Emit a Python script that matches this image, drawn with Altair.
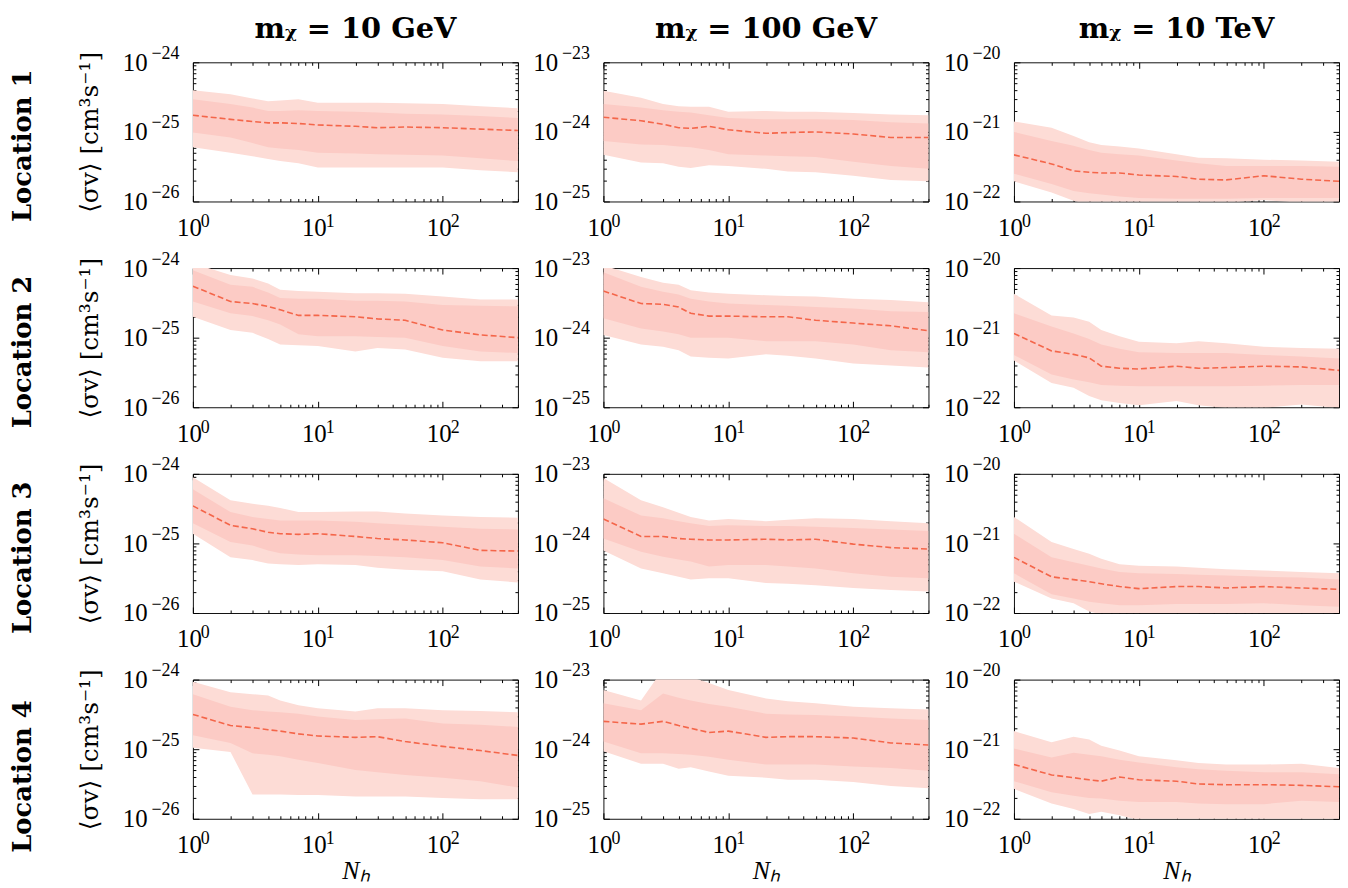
import altair as alt
import pandas as pd

# Number of halos (x axis)
NH = [1, 2, 3, 4, 5, 7, 10, 20, 30, 50, 100, 200, 400]

# log10 of <sigma v>: median, 68% band (ilo/ihi), 95% band (olo/ohi)
# Location 1
L1_10GeV_med = [-24.76, -24.82, -24.85, -24.87, -24.87, -24.88, -24.90, -24.92, -24.94, -24.93, -24.94, -24.96, -24.98]
L1_10GeV_ohi = [-24.40, -24.46, -24.52, -24.56, -24.55, -24.53, -24.58, -24.58, -24.58, -24.59, -24.60, -24.63, -24.66]
L1_10GeV_ihi = [-24.53, -24.60, -24.65, -24.70, -24.70, -24.69, -24.70, -24.71, -24.72, -24.74, -24.75, -24.77, -24.80]
L1_10GeV_ilo = [-25.01, -25.08, -25.16, -25.22, -25.24, -25.26, -25.30, -25.31, -25.32, -25.33, -25.34, -25.38, -25.42]
L1_10GeV_olo = [-25.22, -25.30, -25.35, -25.39, -25.42, -25.45, -25.51, -25.51, -25.51, -25.51, -25.51, -25.55, -25.58]

L1_100GeV_med = [-23.79, -23.84, -23.89, -23.94, -23.95, -23.92, -23.97, -24.02, -24.01, -24.00, -24.03, -24.08, -24.08]
L1_100GeV_ohi = [-23.41, -23.51, -23.60, -23.63, -23.64, -23.64, -23.71, -23.70, -23.71, -23.71, -23.73, -23.75, -23.76]
L1_100GeV_ihi = [-23.60, -23.65, -23.69, -23.71, -23.72, -23.76, -23.80, -23.82, -23.82, -23.82, -23.83, -23.86, -23.88]
L1_100GeV_ilo = [-24.13, -24.18, -24.19, -24.21, -24.22, -24.26, -24.32, -24.34, -24.35, -24.36, -24.43, -24.49, -24.53]
L1_100GeV_olo = [-24.33, -24.44, -24.45, -24.50, -24.52, -24.48, -24.49, -24.53, -24.57, -24.58, -24.63, -24.69, -24.71]

L1_10TeV_med = [-21.33, -21.46, -21.56, -21.58, -21.59, -21.59, -21.62, -21.64, -21.68, -21.69, -21.63, -21.68, -21.71]
L1_10TeV_ohi = [-20.85, -20.94, -21.06, -21.15, -21.19, -21.21, -21.24, -21.32, -21.37, -21.38, -21.40, -21.41, -21.43]
L1_10TeV_ihi = [-21.00, -21.13, -21.20, -21.26, -21.30, -21.32, -21.34, -21.41, -21.45, -21.49, -21.49, -21.49, -21.50]
L1_10TeV_ilo = [-21.60, -21.75, -21.85, -21.88, -21.90, -21.93, -21.95, -21.96, -21.96, -21.96, -21.95, -21.95, -21.95]
L1_10TeV_olo = [-21.71, -21.87, -21.99, -22.05, -22.08, -22.08, -22.08, -22.06, -22.05, -22.02, -21.98, -22.02, -22.05]

# Location 2
L2_10GeV_med = [-24.26, -24.48, -24.51, -24.55, -24.60, -24.68, -24.68, -24.70, -24.73, -24.75, -24.89, -24.96, -25.00]
L2_10GeV_ohi = [-23.93, -24.10, -24.15, -24.22, -24.31, -24.33, -24.34, -24.36, -24.36, -24.37, -24.41, -24.45, -24.45]
L2_10GeV_ihi = [-24.03, -24.24, -24.27, -24.35, -24.43, -24.44, -24.44, -24.47, -24.47, -24.48, -24.53, -24.54, -24.55]
L2_10GeV_ilo = [-24.48, -24.65, -24.69, -24.75, -24.81, -24.95, -24.98, -24.98, -24.99, -25.00, -25.12, -25.20, -25.22]
L2_10GeV_olo = [-24.70, -24.89, -24.93, -25.02, -25.10, -25.11, -25.12, -25.20, -25.15, -25.17, -25.29, -25.34, -25.34]

L2_100GeV_med = [-23.33, -23.51, -23.52, -23.56, -23.65, -23.69, -23.69, -23.70, -23.70, -23.75, -23.79, -23.83, -23.90]
L2_100GeV_ohi = [-22.96, -23.13, -23.21, -23.24, -23.32, -23.35, -23.37, -23.39, -23.40, -23.41, -23.44, -23.46, -23.49]
L2_100GeV_ihi = [-23.06, -23.27, -23.34, -23.38, -23.44, -23.48, -23.51, -23.53, -23.54, -23.56, -23.58, -23.62, -23.63]
L2_100GeV_ilo = [-23.72, -23.87, -23.91, -23.95, -24.00, -24.00, -24.00, -24.05, -24.05, -24.05, -24.10, -24.18, -24.21]
L2_100GeV_olo = [-23.96, -24.10, -24.13, -24.18, -24.27, -24.29, -24.30, -24.24, -24.26, -24.30, -24.37, -24.40, -24.43]

L2_10TeV_med = [-20.94, -21.19, -21.24, -21.29, -21.41, -21.44, -21.45, -21.41, -21.44, -21.43, -21.41, -21.42, -21.47]
L2_10TeV_ohi = [-20.37, -20.68, -20.71, -20.77, -20.89, -20.98, -21.06, -21.08, -21.05, -21.08, -21.13, -21.15, -21.16]
L2_10TeV_ihi = [-20.65, -20.84, -20.94, -21.02, -21.10, -21.16, -21.21, -21.22, -21.22, -21.22, -21.25, -21.27, -21.30]
L2_10TeV_ilo = [-21.25, -21.53, -21.60, -21.64, -21.68, -21.69, -21.70, -21.70, -21.70, -21.70, -21.69, -21.68, -21.68]
L2_10TeV_olo = [-21.33, -21.65, -21.72, -21.84, -21.90, -21.94, -21.97, -21.91, -21.97, -22.01, -22.01, -21.96, -22.01]

# Location 3
L3_10GeV_med = [-24.46, -24.74, -24.79, -24.84, -24.86, -24.87, -24.86, -24.90, -24.93, -24.95, -24.99, -25.10, -25.11]
L3_10GeV_ohi = [-24.05, -24.38, -24.43, -24.46, -24.49, -24.55, -24.55, -24.54, -24.54, -24.57, -24.60, -24.62, -24.63]
L3_10GeV_ihi = [-24.22, -24.55, -24.62, -24.65, -24.67, -24.67, -24.67, -24.69, -24.71, -24.73, -24.76, -24.79, -24.80]
L3_10GeV_ilo = [-24.71, -24.98, -25.03, -25.10, -25.14, -25.16, -25.17, -25.17, -25.18, -25.20, -25.24, -25.33, -25.36]
L3_10GeV_olo = [-24.86, -25.20, -25.24, -25.29, -25.30, -25.31, -25.30, -25.31, -25.35, -25.38, -25.40, -25.52, -25.56]

L3_100GeV_med = [-23.65, -23.90, -23.90, -23.93, -23.94, -23.95, -23.95, -23.94, -23.95, -23.94, -24.01, -24.06, -24.08]
L3_100GeV_ohi = [-23.06, -23.38, -23.48, -23.56, -23.62, -23.67, -23.65, -23.68, -23.66, -23.64, -23.65, -23.68, -23.71]
L3_100GeV_ihi = [-23.35, -23.60, -23.64, -23.68, -23.71, -23.75, -23.74, -23.75, -23.75, -23.76, -23.78, -23.80, -23.82]
L3_100GeV_ilo = [-23.93, -24.12, -24.19, -24.23, -24.26, -24.33, -24.31, -24.31, -24.33, -24.36, -24.43, -24.48, -24.50]
L3_100GeV_olo = [-24.10, -24.36, -24.43, -24.48, -24.52, -24.50, -24.50, -24.57, -24.58, -24.60, -24.64, -24.67, -24.69]

L3_10TeV_med = [-21.20, -21.48, -21.52, -21.55, -21.58, -21.62, -21.65, -21.62, -21.62, -21.64, -21.62, -21.64, -21.66]
L3_10TeV_ohi = [-20.62, -20.98, -21.08, -21.15, -21.22, -21.30, -21.32, -21.33, -21.35, -21.37, -21.39, -21.41, -21.43]
L3_10TeV_ihi = [-20.86, -21.20, -21.27, -21.32, -21.36, -21.41, -21.43, -21.44, -21.45, -21.46, -21.48, -21.49, -21.52]
L3_10TeV_ilo = [-21.43, -21.73, -21.79, -21.84, -21.86, -21.89, -21.89, -21.87, -21.87, -21.87, -21.86, -21.89, -21.91]
L3_10TeV_olo = [-21.55, -21.79, -21.86, -21.98, -22.02, -22.04, -22.04, -22.00, -22.00, -22.00, -22.03, -22.03, -22.03]

# Location 4
L4_10GeV_med = [-24.50, -24.66, -24.69, -24.72, -24.74, -24.78, -24.81, -24.83, -24.82, -24.89, -24.96, -25.02, -25.09]
L4_10GeV_ohi = [-24.03, -24.18, -24.21, -24.23, -24.30, -24.37, -24.41, -24.46, -24.41, -24.41, -24.44, -24.45, -24.47]
L4_10GeV_ihi = [-24.21, -24.39, -24.44, -24.46, -24.47, -24.49, -24.53, -24.58, -24.57, -24.56, -24.63, -24.65, -24.68]
L4_10GeV_ilo = [-24.80, -24.91, -25.06, -25.08, -25.10, -25.15, -25.20, -25.30, -25.33, -25.37, -25.41, -25.46, -25.55]
L4_10GeV_olo = [-24.98, -25.04, -25.65, -25.65, -25.65, -25.66, -25.66, -25.68, -25.68, -25.68, -25.70, -25.72, -25.72]

L4_100GeV_med = [-23.60, -23.64, -23.60, -23.66, -23.70, -23.76, -23.74, -23.83, -23.82, -23.82, -23.84, -23.91, -23.94]
L4_100GeV_ohi = [-23.15, -23.30, -22.85, -22.90, -22.96, -23.05, -23.15, -23.27, -23.31, -23.34, -23.39, -23.41, -23.43]
L4_100GeV_ihi = [-23.34, -23.44, -23.20, -23.26, -23.30, -23.35, -23.39, -23.49, -23.50, -23.51, -23.53, -23.56, -23.58]
L4_100GeV_ilo = [-23.89, -24.06, -24.06, -24.07, -24.08, -24.11, -24.15, -24.22, -24.22, -24.22, -24.25, -24.27, -24.31]
L4_100GeV_olo = [-24.03, -24.21, -24.21, -24.28, -24.26, -24.32, -24.38, -24.41, -24.44, -24.44, -24.47, -24.53, -24.56]

L4_10TeV_med = [-21.22, -21.37, -21.41, -21.44, -21.46, -21.40, -21.44, -21.46, -21.50, -21.51, -21.51, -21.52, -21.54]
L4_10TeV_ohi = [-20.74, -20.90, -20.82, -20.86, -20.95, -21.02, -21.10, -21.16, -21.20, -21.22, -21.22, -21.21, -21.27]
L4_10TeV_ihi = [-20.99, -21.12, -21.05, -21.08, -21.10, -21.15, -21.19, -21.26, -21.29, -21.31, -21.33, -21.33, -21.36]
L4_10TeV_ilo = [-21.46, -21.62, -21.67, -21.70, -21.71, -21.74, -21.76, -21.76, -21.78, -21.79, -21.79, -21.74, -21.76]
L4_10TeV_olo = [-21.57, -21.78, -21.86, -21.93, -21.90, -21.95, -22.02, -22.02, -22.03, -22.03, -22.03, -22.03, -22.03]

COL_TITLES = ["mᵪ = 10 GeV", "mᵪ = 100 GeV", "mᵪ = 10 TeV"]
ROW_TITLES = ["Location 1", "Location 2", "Location 3", "Location 4"]
Y_EXP = [(-26, -24), (-25, -23), (-22, -20)]  # y-range exponents per column

PANELS = [
    [(L1_10GeV_med, L1_10GeV_ilo, L1_10GeV_ihi, L1_10GeV_olo, L1_10GeV_ohi),
     (L1_100GeV_med, L1_100GeV_ilo, L1_100GeV_ihi, L1_100GeV_olo, L1_100GeV_ohi),
     (L1_10TeV_med, L1_10TeV_ilo, L1_10TeV_ihi, L1_10TeV_olo, L1_10TeV_ohi)],
    [(L2_10GeV_med, L2_10GeV_ilo, L2_10GeV_ihi, L2_10GeV_olo, L2_10GeV_ohi),
     (L2_100GeV_med, L2_100GeV_ilo, L2_100GeV_ihi, L2_100GeV_olo, L2_100GeV_ohi),
     (L2_10TeV_med, L2_10TeV_ilo, L2_10TeV_ihi, L2_10TeV_olo, L2_10TeV_ohi)],
    [(L3_10GeV_med, L3_10GeV_ilo, L3_10GeV_ihi, L3_10GeV_olo, L3_10GeV_ohi),
     (L3_100GeV_med, L3_100GeV_ilo, L3_100GeV_ihi, L3_100GeV_olo, L3_100GeV_ohi),
     (L3_10TeV_med, L3_10TeV_ilo, L3_10TeV_ihi, L3_10TeV_olo, L3_10TeV_ohi)],
    [(L4_10GeV_med, L4_10GeV_ilo, L4_10GeV_ihi, L4_10GeV_olo, L4_10GeV_ohi),
     (L4_100GeV_med, L4_100GeV_ilo, L4_100GeV_ihi, L4_100GeV_olo, L4_100GeV_ohi),
     (L4_10TeV_med, L4_10TeV_ilo, L4_10TeV_ihi, L4_10TeV_olo, L4_10TeV_ohi)],
]

EXPS = [0, 1, 2] + list(range(-27, -19))
# exponent text of each decade tick (U+2212 minus sign)
EXP_EXPR = "".join(
    f"round(log(datum.value)/LN10) == {e} ? '{str(e).replace('-', '−')}' : " for e in EXPS
) + "''"
BASE_EXPR = "'10'"

SERIF = "Liberation Serif"
BASE_FS, EXP_FS = 25, 18
OUTER = "#fddcd6"
INNER = "#fccbc5"
LINE = "#f4664a"
W, H = 327, 140
MAJ, MIN = 6, 3

X_MAJOR = [1, 10, 100]
X_MINOR = [k * d for d in (1, 10, 100) for k in range(2, 10) if k * d <= 400]


def ax(orient, values, size, **kw):
    opts = dict(orient=orient, values=values, tickSize=size, offset=-size, domain=False,
                grid=False, tickColor="black", labelFlush=False, labelOverlap=False,
                labelFont=SERIF, labelColor="black")
    opts.update(kw)
    return alt.Axis(**opts)


def panel(r, c):
    med, ilo, ihi, olo, ohi = PANELS[r][c]
    e0, e1 = Y_EXP[c]
    df = pd.DataFrame({
        "N": NH,
        "med": [10.0 ** v for v in med],
        "ilo": [10.0 ** v for v in ilo],
        "ihi": [10.0 ** v for v in ihi],
        "olo": [10.0 ** v for v in olo],
        "ohi": [10.0 ** v for v in ohi],
    })
    xs = alt.Scale(type="log", domain=[1, 400], nice=False)
    ys = alt.Scale(type="log", domain=[10.0 ** e0, 10.0 ** e1], nice=False)
    y_major = [10.0 ** e for e in range(e0, e1 + 1)]
    y_minor = [k * 10.0 ** e for e in range(e0, e1) for k in range(2, 10)]

    xtitle = "Nₕ" if r == 3 else None
    ytitle = "⟨σv⟩ [cm³s⁻¹]" if c == 0 else None

    # bottom: "10" part with ticks, then exponent part (ticks hidden), then minor ticks
    ax_b10 = ax("bottom", X_MAJOR, MAJ, labelExpr=BASE_EXPR, labelFontSize=BASE_FS,
                labelPadding=14, labelOffset=-4,
                titleFont=SERIF, titleFontSize=26, titleFontStyle="italic",
                titleFontWeight="normal", titleColor="black", titlePadding=0)
    ax_bexp = ax("bottom", X_MAJOR, MAJ, labelExpr=EXP_EXPR, labelFontSize=EXP_FS,
                 labelPadding=11, labelOffset=12, tickOpacity=0, title=None)
    ax_bmin = ax("bottom", X_MINOR, MIN, labels=False, title=None)
    ax_l10 = ax("left", y_major, MAJ, labelExpr=BASE_EXPR, labelFontSize=BASE_FS,
                labelPadding=46, labelOffset=0,
                titleFont="DejaVu Serif", titleFontSize=25, titleFontWeight="normal",
                titleColor="black", titlePadding=20)
    ax_lexp = ax("left", y_major, MAJ, labelExpr=EXP_EXPR, labelFontSize=EXP_FS,
                 labelPadding=14, labelOffset=-9, tickOpacity=0, title=None)
    ax_lmin = ax("left", y_minor, MIN, labels=False, title=None)
    ax_top = ax("top", X_MAJOR, MAJ, labels=False, title=None)
    ax_tmin = ax("top", X_MINOR, MIN, labels=False, title=None)
    ax_right = ax("right", y_major, MAJ, labels=False, title=None)
    ax_rmin = ax("right", y_minor, MIN, labels=False, title=None)

    base = alt.Chart(df)
    outer = base.mark_area(color=OUTER, opacity=1, clip=True).encode(
        x=alt.X("N:Q", scale=xs, axis=ax_b10, title=xtitle),
        y=alt.Y("olo:Q", scale=ys, axis=ax_l10, title=ytitle),
        y2="ohi:Q",
    )
    inner = base.mark_area(color=INNER, opacity=1, clip=True).encode(
        x=alt.X("N:Q", scale=xs, axis=ax_bexp),
        y=alt.Y("ilo:Q", scale=ys, axis=ax_lexp),
        y2="ihi:Q",
    )
    line = base.mark_line(color=LINE, strokeWidth=1.6, strokeDash=[6, 3], clip=True).encode(
        x=alt.X("N:Q", scale=xs, axis=ax_bmin),
        y=alt.Y("med:Q", scale=ys, axis=ax_lmin),
    )
    ghost1 = base.mark_line(opacity=0, clip=True).encode(
        x=alt.X("N:Q", scale=xs, axis=ax_top),
        y=alt.Y("med:Q", scale=ys, axis=ax_right),
    )
    ghost2 = base.mark_line(opacity=0, clip=True).encode(
        x=alt.X("N:Q", scale=xs, axis=ax_tmin),
        y=alt.Y("med:Q", scale=ys, axis=ax_rmin),
    )
    ch = alt.layer(outer, inner, line, ghost1, ghost2).resolve_axis(
        x="independent", y="independent")
    props = dict(width=W, height=H)
    if r == 0:
        props["title"] = alt.TitleParams(COL_TITLES[c], font="DejaVu Serif", fontSize=29,
                                         fontWeight="bold", color="black", offset=0,
                                         anchor="middle")
    return ch.properties(**props)


rows = []
for r in range(4):
    row = alt.hconcat(*[panel(r, c) for c in range(3)], spacing=13).properties(
        title=alt.TitleParams(ROW_TITLES[r], orient="left", anchor="middle",
                              font="DejaVu Serif", fontSize=26, fontWeight="bold",
                              color="black", offset=41, dx=(-18 if r == 0 else -4))
    )
    rows.append(row)

chart = alt.vconcat(*rows, spacing=8).properties(
    padding={"left": 2, "top": 4, "right": 0, "bottom": 0}
).configure_view(stroke="#111", strokeWidth=1)

chart.save("out.html", embed_options={"renderer": "svg", "actions": False})
